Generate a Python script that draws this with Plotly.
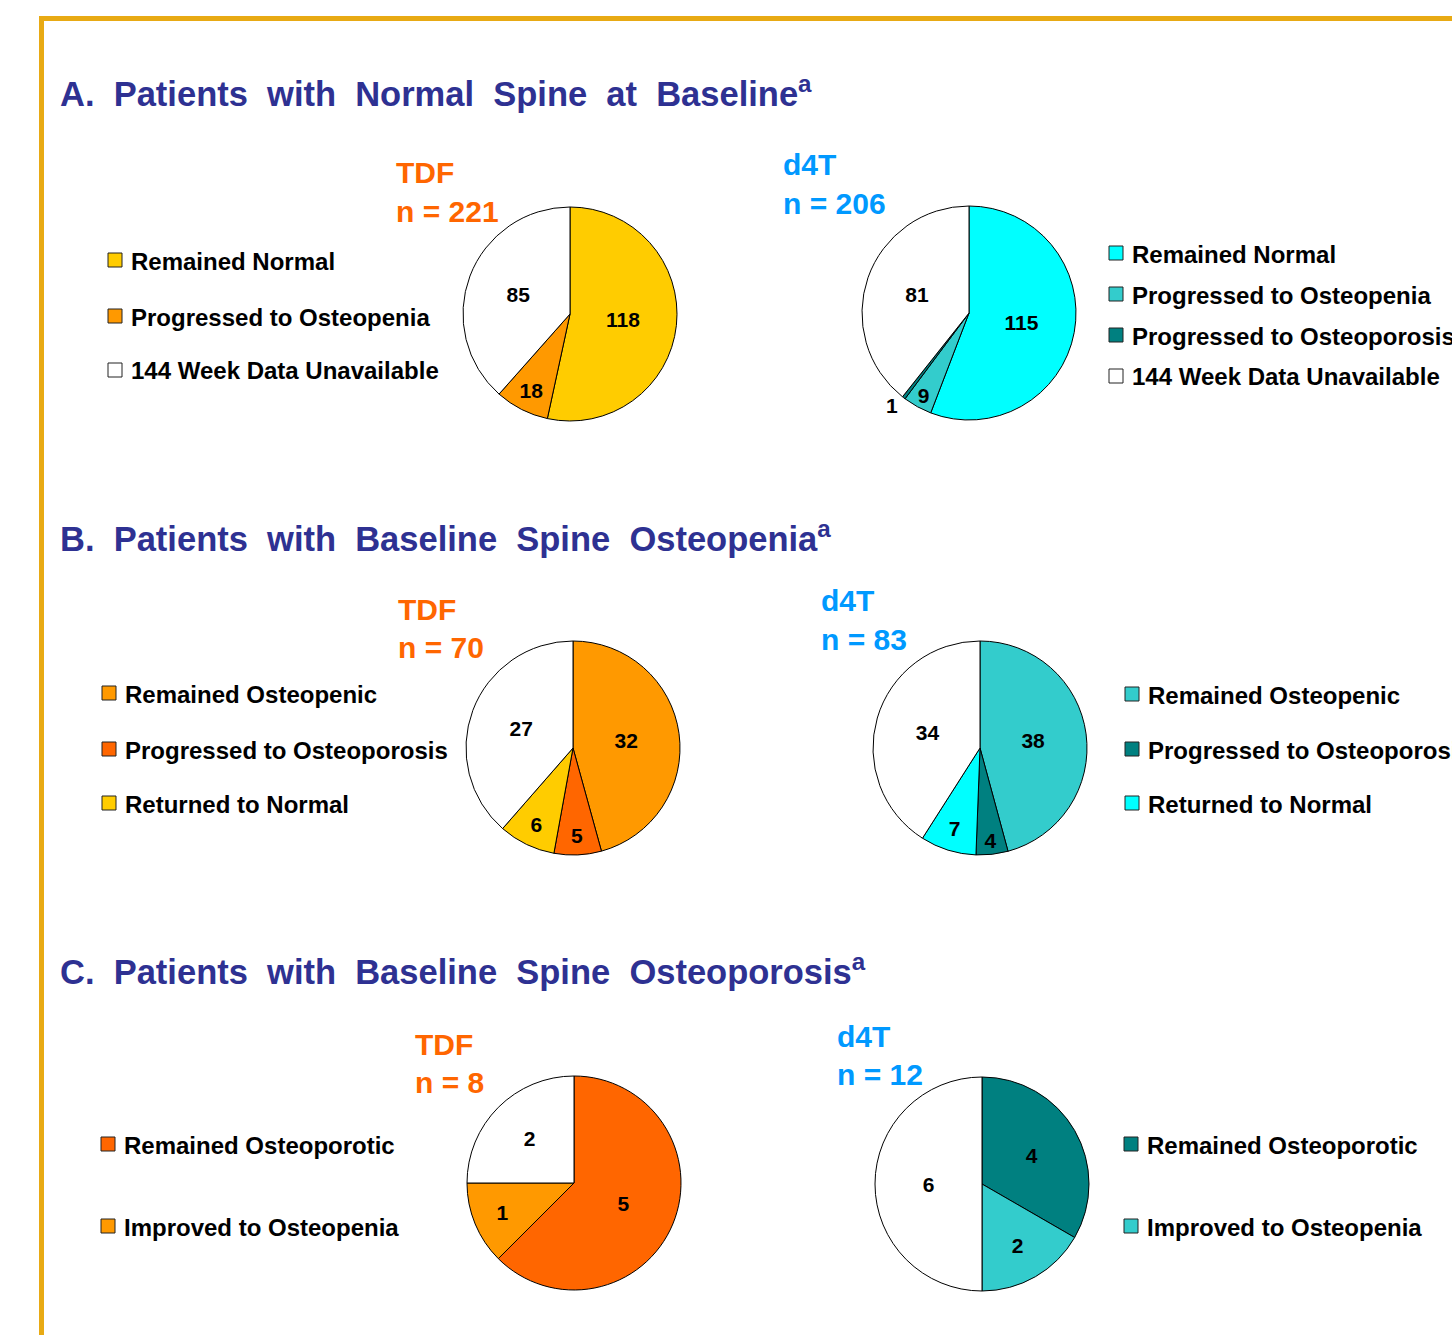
import plotly.graph_objects as go

W, H = 1452, 1335

# ---------------- data ----------------
a_tdf_labels = ["Remained Normal", "Progressed to Osteopenia", "144 Week Data Unavailable"]
a_tdf_values = [118, 18, 85]
a_d4t_labels = ["Remained Normal", "Progressed to Osteopenia", "Progressed to Osteoporosis", "144 Week Data Unavailable"]
a_d4t_values = [115, 9, 1, 81]

b_tdf_labels = ["Remained Osteopenic", "Progressed to Osteoporosis", "Returned to Normal", "144 Week Data Unavailable"]
b_tdf_values = [32, 5, 6, 27]
b_d4t_labels = ["Remained Osteopenic", "Progressed to Osteoporosis", "Returned to Normal", "144 Week Data Unavailable"]
b_d4t_values = [38, 4, 7, 34]

c_tdf_labels = ["Remained Osteoporotic", "Improved to Osteopenia", "144 Week Data Unavailable"]
c_tdf_values = [5, 1, 2]
c_d4t_labels = ["Remained Osteoporotic", "Improved to Osteopenia", "144 Week Data Unavailable"]
c_d4t_values = [4, 2, 6]

section_titles = ["A. Patients with Normal Spine at Baseline",
                  "B. Patients with Baseline Spine Osteopenia",
                  "C. Patients with Baseline Spine Osteoporosis"]
group_names = ["TDF", "d4T"]

# ---------------- styles ----------------
YEL, ORA, RED = "#FFCC00", "#FF9900", "#FF6600"
CYAN, TEAL, DTEAL = "#00FFFF", "#33CCCC", "#008080"
WHITE = "#FFFFFF"
TITLE_C = "#2E3192"
TDF_C, D4T_C = "#FF6600", "#0099FF"
GOLD = "#E8AA14"
FONT = "Liberation Sans, Arial, sans-serif"

def X(px):
    return px / W

def Y(py):
    return 1 - py / H

R = 107
pies = [
    (a_tdf_labels, a_tdf_values, [YEL, ORA, WHITE], 570, 314, 3, (108, [260, 316, 370]), (396, 173, TDF_C, "TDF"), None),
    (a_d4t_labels, a_d4t_values, [CYAN, TEAL, DTEAL, WHITE], 969, 313, 4, (1109, [253, 294, 335, 376]), (783, 165, D4T_C, "d4T"),
     ["inside", "inside", "outside", "inside"]),
    (b_tdf_labels, b_tdf_values, [ORA, RED, YEL, WHITE], 573, 748, 3, (102, [693, 749, 803]), (398, 609, TDF_C, "TDF"), None),
    (b_d4t_labels, b_d4t_values, [TEAL, DTEAL, CYAN, WHITE], 980, 748, 3, (1125, [694, 749, 803]), (821, 601, D4T_C, "d4T"), None),
    (c_tdf_labels, c_tdf_values, [RED, ORA, WHITE], 574, 1183, 2, (101, [1144, 1226]), (415, 1044, TDF_C, "TDF"), None),
    (c_d4t_labels, c_d4t_values, [DTEAL, TEAL, WHITE], 982, 1184, 2, (1124, [1144, 1226]), (837, 1036, D4T_C, "d4T"), None),
]

fig = go.Figure()
shapes = []
annotations = []

for labels, values, colors, cx, cy, nleg, (lx, lys), (gx, gy, gc, gname), tpos in pies:
    fig.add_trace(go.Pie(
        labels=labels, values=values, sort=False, direction="clockwise", rotation=0,
        marker=dict(colors=colors, line=dict(color="#000000", width=1)),
        textinfo="value", texttemplate="<b>%{value}</b>",
        textposition=tpos if tpos else "inside",
        insidetextorientation="horizontal",
        textfont=dict(family=FONT, size=21, color="#000000"),
        outsidetextfont=dict(family=FONT, size=21, color="#000000"),
        domain=dict(x=[X(cx - R), X(cx + R)], y=[Y(cy + R), Y(cy - R)]),
        showlegend=False, hoverinfo="label+value",
    ))
    for i in range(nleg):
        ly = lys[i]
        shapes.append(dict(type="rect", xref="paper", yref="paper",
                           x0=X(lx), x1=X(lx + 14), y0=Y(ly + 7), y1=Y(ly - 7),
                           fillcolor=colors[i], line=dict(color="#222222", width=1)))
        annotations.append(dict(x=X(lx + 21), y=Y(ly + 1), xref="paper", yref="paper",
                                xanchor="left", yanchor="middle", showarrow=False,
                                text="<b>" + labels[i] + "</b>",
                                font=dict(family=FONT, size=24, color="#000000")))
    n_total = sum(values)
    annotations.append(dict(x=X(gx - 2), y=Y(gy), xref="paper", yref="paper",
                            xanchor="left", yanchor="middle", showarrow=False,
                            text="<b>" + gname + "</b>", font=dict(family=FONT, size=30, color=gc)))
    annotations.append(dict(x=X(gx - 2), y=Y(gy + 38), xref="paper", yref="paper",
                            xanchor="left", yanchor="middle", showarrow=False,
                            text="<b>n = " + str(n_total) + "</b>", font=dict(family=FONT, size=30, color=gc)))

for t, ty in zip(section_titles, [92, 536, 969]):
    annotations.append(dict(x=X(58), y=Y(ty), xref="paper", yref="paper",
                            xanchor="left", yanchor="middle", showarrow=False,
                            text="<b>" + t.replace(" ", " \u00a0") + "<sup>a</sup></b>",
                            font=dict(family=FONT, size=34.5, color=TITLE_C)))

shapes.append(dict(type="line", xref="paper", yref="paper", x0=X(39), x1=1, y0=Y(18.5), y1=Y(18.5),
                   line=dict(color=GOLD, width=5)))
shapes.append(dict(type="line", xref="paper", yref="paper", x0=X(41.5), x1=X(41.5), y0=Y(16), y1=0,
                   line=dict(color=GOLD, width=5)))

fig.update_layout(
    width=W, height=H, margin=dict(l=0, r=0, t=0, b=0),
    paper_bgcolor="#FFFFFF", plot_bgcolor="#FFFFFF",
    shapes=shapes, annotations=annotations, showlegend=False,
)

fig.write_html("out.html", config={"displayModeBar": False},
               post_script="document.body.style.margin='0px';document.body.style.overflow='hidden';")
